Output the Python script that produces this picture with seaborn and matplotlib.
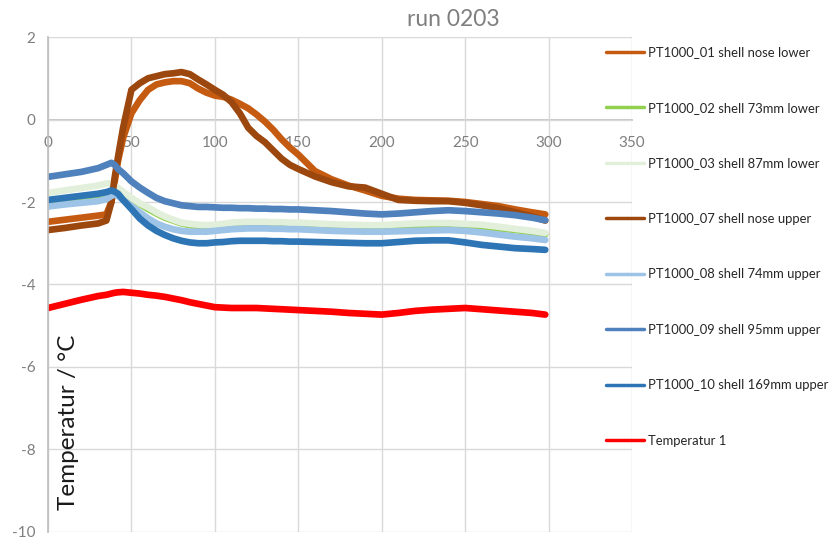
import matplotlib
matplotlib.use("Agg")
import matplotlib.pyplot as plt
import seaborn as sns
import pandas as pd

# Sample times (s)
t = [0, 10, 20, 30, 35, 38, 40, 42, 45, 50, 55, 60, 65, 70, 75, 80, 85, 90, 95,
     100, 105, 110, 115, 120, 125, 130, 135, 140, 145, 150, 160, 170, 180, 190,
     200, 210, 220, 230, 240, 250, 260, 270, 280, 290, 298]

# Temperatures (°C) per sensor
pt01 = [-2.48, -2.43, -2.38, -2.33, -2.30, -2.00, -1.50, -1.00, -0.45, 0.15, 0.47, 0.72,
        0.85, 0.90, 0.93, 0.93, 0.88, 0.75, 0.65, 0.58, 0.55, 0.48, 0.38, 0.27, 0.12,
        -0.05, -0.25, -0.48, -0.68, -0.85, -1.25, -1.45, -1.60, -1.72, -1.85, -1.92,
        -1.95, -1.96, -1.97, -2.00, -2.05, -2.10, -2.18, -2.25, -2.30]
pt02 = [-1.98, -1.93, -1.88, -1.83, -1.80, -1.72, -1.70, -1.72, -1.80, -1.92, -2.05, -2.17,
        -2.28, -2.38, -2.45, -2.52, -2.56, -2.58, -2.60, -2.60, -2.59, -2.58, -2.57, -2.57,
        -2.57, -2.57, -2.58, -2.58, -2.58, -2.59, -2.60, -2.61, -2.62, -2.62, -2.62, -2.60,
        -2.58, -2.57, -2.56, -2.57, -2.60, -2.64, -2.68, -2.73, -2.78]
pt03 = [-1.78, -1.72, -1.66, -1.60, -1.55, -1.55, -1.60, -1.66, -1.75, -1.90, -2.03, -2.13,
        -2.25, -2.35, -2.43, -2.50, -2.53, -2.55, -2.56, -2.55, -2.53, -2.50, -2.49, -2.48,
        -2.48, -2.48, -2.49, -2.49, -2.50, -2.50, -2.52, -2.54, -2.55, -2.56, -2.56, -2.54,
        -2.52, -2.51, -2.51, -2.53, -2.55, -2.60, -2.65, -2.70, -2.75]
pt07 = [-2.68, -2.63, -2.57, -2.52, -2.45, -2.00, -1.40, -0.90, -0.20, 0.72, 0.88, 1.00,
        1.05, 1.10, 1.12, 1.15, 1.10, 0.97, 0.85, 0.72, 0.60, 0.42, 0.15, -0.20, -0.40,
        -0.55, -0.75, -0.95, -1.10, -1.20, -1.38, -1.52, -1.62, -1.65, -1.80, -1.95,
        -1.97, -1.98, -1.98, -2.02, -2.08, -2.15, -2.25, -2.35, -2.45]
pt08 = [-2.11, -2.06, -2.02, -1.98, -1.93, -1.85, -1.82, -1.85, -1.95, -2.10, -2.25, -2.40,
        -2.52, -2.60, -2.66, -2.70, -2.72, -2.72, -2.72, -2.70, -2.68, -2.66, -2.65, -2.64,
        -2.64, -2.64, -2.65, -2.65, -2.66, -2.66, -2.68, -2.70, -2.71, -2.72, -2.72, -2.71,
        -2.70, -2.69, -2.68, -2.70, -2.74, -2.79, -2.84, -2.88, -2.92]
pt09 = [-1.39, -1.33, -1.27, -1.18, -1.10, -1.05, -1.10, -1.20, -1.30, -1.50, -1.65, -1.78,
        -1.90, -1.98, -2.03, -2.08, -2.10, -2.12, -2.12, -2.13, -2.14, -2.14, -2.15, -2.15,
        -2.16, -2.16, -2.17, -2.17, -2.18, -2.18, -2.20, -2.22, -2.25, -2.28, -2.30, -2.28,
        -2.25, -2.22, -2.20, -2.22, -2.25, -2.28, -2.32, -2.38, -2.44]
pt10 = [-1.95, -1.90, -1.85, -1.80, -1.76, -1.72, -1.75, -1.80, -1.95, -2.17, -2.40, -2.57,
        -2.70, -2.80, -2.88, -2.94, -2.98, -3.00, -3.00, -2.98, -2.97, -2.95, -2.94, -2.94,
        -2.94, -2.94, -2.95, -2.95, -2.96, -2.96, -2.97, -2.98, -2.99, -3.00, -3.00, -2.97,
        -2.94, -2.93, -2.93, -2.98, -3.04, -3.08, -3.12, -3.14, -3.16]
temp1 = [-4.57, -4.47, -4.37, -4.28, -4.25, -4.22, -4.20, -4.19, -4.18, -4.20, -4.22, -4.25,
         -4.27, -4.30, -4.34, -4.38, -4.43, -4.47, -4.51, -4.55, -4.56, -4.57, -4.57, -4.57,
         -4.57, -4.58, -4.59, -4.60, -4.61, -4.62, -4.64, -4.66, -4.69, -4.71, -4.73, -4.69,
         -4.64, -4.61, -4.59, -4.57, -4.60, -4.63, -4.66, -4.69, -4.73]

labels = ["PT1000_01 shell nose lower", "PT1000_02 shell 73mm lower",
          "PT1000_03 shell 87mm lower", "PT1000_07 shell nose upper",
          "PT1000_08 shell 74mm upper", "PT1000_09 shell 95mm upper",
          "PT1000_10 shell 169mm upper", "Temperatur 1"]
series = [pt01, pt02, pt03, pt07, pt08, pt09, pt10, temp1]
colors = ["#C55A11", "#92D050", "#E2EFDA", "#9C470D", "#9DC3E6", "#4F81BD",
          "#2E75B6", "#FF0000"]

x_ticks = [0, 50, 100, 150, 200, 250, 300, 350]
y_ticks = [-10, -8, -6, -4, -2, 0, 2]

df = pd.concat(
    [pd.DataFrame({"Zeit": t, "Temperatur": vals, "Sensor": name})
     for name, vals in zip(labels, series)],
    ignore_index=True,
)

sns.set_theme(style="white")
plt.rcParams["font.family"] = ["Lato", "DejaVu Sans"]
plt.rcParams["axes.unicode_minus"] = False

fig = plt.figure(figsize=(8.36, 5.38), dpi=100)
ax = fig.add_axes([0.0574, 0.0112, 0.6986, 0.92])

sns.lineplot(data=df, x="Zeit", y="Temperatur", hue="Sensor",
             palette=dict(zip(labels, colors)), hue_order=labels,
             estimator=None, sort=False, linewidth=4.8, ax=ax)

ax.set_xlim(0, 350)
ax.set_ylim(-10, 2)
ax.set_xticks(x_ticks)
ax.set_yticks(y_ticks)
ax.grid(True, color="#D9D9D9", linewidth=1.0)
ax.set_axisbelow(True)

for side in ["top", "right"]:
    ax.spines[side].set_visible(False)
ax.spines["left"].set_color("#BFBFBF")
ax.spines["bottom"].set_color("#BFBFBF")
ax.spines["bottom"].set_position(("data", 0))
ax.spines["bottom"].set_zorder(0.5)

ax.tick_params(axis="both", length=0, labelsize=11, labelcolor="#7F7F7F")
ax.tick_params(axis="x", pad=12)
ax.tick_params(axis="y", pad=9)

ax.set_xlabel("")
ax.set_ylabel("")
ax.text(477, 0.22, "Zeit / s", fontsize=16, color="#1A1A1A", ha="left",
        va="bottom", transform=ax.transData)
ax.text(12, -7.33, "Temperatur / °C", fontsize=17.5, color="#1A1A1A",
        rotation=90, ha="center", va="center", transform=ax.transData)

fig.text(453 / 836, 1 - 19 / 538, "run 0203", fontsize=16.5, color="#7F7F7F",
         ha="center", va="center")

handles, leg_labels = ax.get_legend_handles_labels()
for h in handles:
    h.set_linewidth(2.5)
ax.legend(handles, leg_labels, loc="upper left", bbox_to_anchor=(0.935, 1.005),
          frameon=False, fontsize=9.4, labelspacing=3.33, handlelength=2.9,
          handletextpad=0.35, labelcolor="#262626")

fig.savefig("out.png", dpi=100)
